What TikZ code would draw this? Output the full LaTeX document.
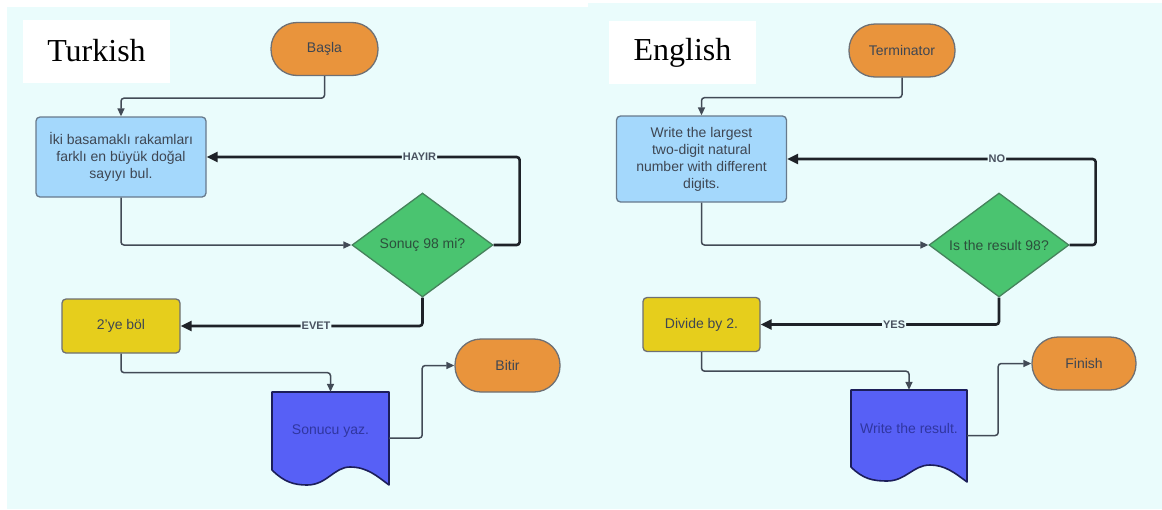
\documentclass[tikz,border=0pt]{standalone}
\usepackage{fontspec}
\setmainfont{Liberation Serif}
\setsansfont{Liberation Sans}
\usetikzlibrary{arrows.meta}
\usetikzlibrary{shapes.geometric}

\definecolor{panelcyan}{RGB}{234,252,252}
\definecolor{termorange}{RGB}{233,148,60}
\definecolor{procblue}{RGB}{164,216,252}
\definecolor{procedge}{RGB}{104,122,140}
\definecolor{decgreen}{RGB}{74,196,112}
\definecolor{decedge}{RGB}{70,130,92}
\definecolor{decink}{RGB}{44,80,60}
\definecolor{stepyellow}{RGB}{230,206,28}
\definecolor{docblue}{RGB}{87,96,246}
\definecolor{docedge}{RGB}{28,30,90}
\definecolor{docink}{RGB}{48,54,160}
\definecolor{edgegrey}{RGB}{110,112,116}
\definecolor{inkgrey}{RGB}{62,70,82}
\definecolor{lineink}{RGB}{66,74,86}
\definecolor{branchink}{RGB}{30,34,40}
\definecolor{labelgrey}{RGB}{74,82,96}

\begin{document}
\begin{tikzpicture}[x=1pt,y=-1pt,
    every node/.style={font=\sffamily\fontsize{14}{17}\selectfont,text=inkgrey},
    titlebox/.style={fill=white,minimum width=147pt,minimum height=63pt,inner sep=0pt,font=\rmfamily\fontsize{32}{36}\selectfont,text=black},
    term/.style={draw=edgegrey,line width=1.3pt,fill=termorange,rounded corners=26pt,minimum height=53pt,inner sep=0pt},
    proc/.style={draw=procedge,line width=1.3pt,fill=procblue,rounded corners=4pt,minimum width=170pt,align=center,inner sep=0pt},
    dec/.style={diamond,draw=decedge,line width=1.3pt,fill=decgreen,aspect=1.35,inner sep=1pt,minimum width=141pt,minimum height=104pt,text=decink},
    act/.style={draw=edgegrey,line width=1.3pt,fill=stepyellow,rounded corners=4pt,minimum height=54pt,inner sep=0pt},
    docshape/.style={draw=docedge,line width=1.6pt,fill=docblue,line join=round},
    doctext/.style={inner sep=0pt,text=docink},
    flow/.style={draw=lineink,line width=1.5pt,rounded corners=3pt,-{Triangle[length=8pt,width=7pt]}},
    branch/.style={draw=branchink,line width=2.6pt,rounded corners=3pt,-{Triangle[length=11pt,width=10pt]}},
    lbl/.style={fill=panelcyan,inner sep=1pt,font=\sffamily\bfseries\fontsize{11}{12}\selectfont,text=labelgrey}]

    \useasboundingbox (0,0) rectangle (1162,509);
    \fill[white] (0,0) rectangle (1162,509);
    \fill[panelcyan] (7,7) rectangle (588,509);
    \fill[panelcyan] (588,3) rectangle (1162,509);

    % Turkish
    \node[titlebox] (turkish) at (96.5,51) {Turkish};
    \node[term,minimum width=107pt] (basla) at (324.5,49) {Başla};
    \node[proc,minimum height=80pt] (bul) at (121,157) {İki basamaklı rakamları\\farklı en büyük doğal\\sayıyı bul.};
    \node[dec] (karar) at (422.5,245) {Sonuç 98 mi?};
    \node[act,minimum width=118pt] (bol) at (121,326) {2'ye böl};
    \coordinate (sonuc-sw) at (272,470);
    \draw[docshape,shift={(sonuc-sw)}] (0,0) -- (0,-78) -- (117,-78) -- (117,15)
        .. controls (105,6) and (95,-3) .. (78,-3)
        .. controls (62,-3) and (55,15) .. (35,15)
        .. controls (22,15) and (12,12) .. (0,0) -- cycle;
    \node[doctext,minimum width=117pt,minimum height=78pt] (sonuc) at (330.5,431) {Sonucu yaz.};
    \node[term,minimum width=105pt] (bitir) at (507.5,365.5) {Bitir};

    \draw[flow] (basla.south) -- ++(0,22) -| (bul.north);
    \draw[flow] (bul.south) |- (karar.west);
    \draw[branch] (karar.east) -- ++(26,0) |- (bul.east) node[lbl,pos=0.66] {HAYIR};
    \draw[branch] (karar.south) |- (bol.east) node[lbl,pos=0.72] {EVET};
    \draw[flow] (bol.south) -- ++(0,19) -| (sonuc.north);
    \draw[flow] ([yshift=-7pt]sonuc.east) -- ++(33,0) |- (bitir.west);

    % English
    \node[titlebox] (english) at (682.5,52.5) {English};
    \node[term,minimum width=106pt] (term) at (902,50.5) {Terminator};
    \node[proc,minimum height=86pt] (write) at (701.5,159) {Write the largest\\two-digit natural\\number with different\\digits.};
    \node[dec,minimum width=140pt] (check) at (999,245) {Is the result 98?};
    \node[act,minimum width=117pt] (divide) at (701.5,324.5) {Divide by 2.};
    \coordinate (result-sw) at (851,467);
    \draw[docshape,shift={(result-sw)}] (0,0) -- (0,-77) -- (116,-77) -- (116,15)
        .. controls (104,6) and (94,-2) .. (79,-2)
        .. controls (62,-2) and (55,14) .. (36,14)
        .. controls (22,14) and (12,12) .. (0,0) -- cycle;
    \node[doctext,minimum width=116pt,minimum height=77pt] (result) at (909,428.5) {Write the result.};
    \node[term,minimum width=104pt] (finish) at (1084,363.5) {Finish};

    \draw[flow] (term.south) -- ++(0,20) -| (write.north);
    \draw[flow] (write.south) |- (check.west);
    \draw[branch] (check.east) -- ++(26,0) |- (write.east) node[lbl,pos=0.66] {NO};
    \draw[branch] (check.south) |- (divide.east) node[lbl,pos=0.72] {YES};
    \draw[flow] (divide.south) -- ++(0,19) -| (result.north);
    \draw[flow] ([yshift=-7pt]result.east) -- ++(31,0) |- (finish.west);
\end{tikzpicture}
\end{document}
